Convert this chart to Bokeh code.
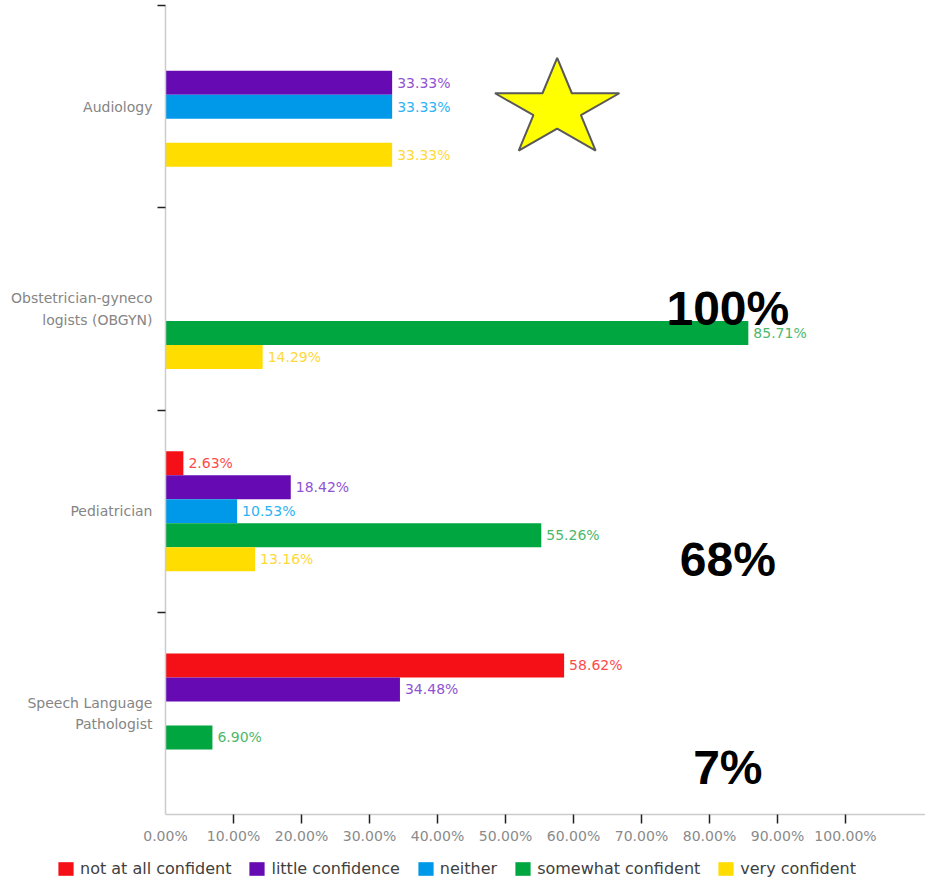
import math
from bokeh.plotting import figure
from bokeh.models import ColumnDataSource, Range1d, FixedTicker, Legend, LegendItem
from bokeh.embed import file_html
from bokeh.resources import INLINE
from bokeh.core.properties import value

# ---------------- data ----------------
categories = ["Audiology", "Obstetrician-gyneco\nlogists (OBGYN)", "Pediatrician",
              "Speech Language\nPathologist"]
series_names = ["not at all confident", "little confidence", "neither",
                "somewhat confident", "very confident"]
not_at_all = [0, 0, 2.63, 58.62]
little_conf = [33.33, 0, 18.42, 34.48]
neither = [33.33, 0, 10.53, 0]
somewhat = [0, 85.71, 55.26, 6.90]
very = [33.33, 14.29, 13.16, 0]
x_ticks = [0, 10, 20, 30, 40, 50, 60, 70, 80, 90, 100]
x_tick_labels = ["0.00%", "10.00%", "20.00%", "30.00%", "40.00%", "50.00%",
                 "60.00%", "70.00%", "80.00%", "90.00%", "100.00%"]
callout_texts = ["100%", "68%", "7%"]

# ---------------- styles / layout ----------------
bar_colors = ["#f41016", "#660bb3", "#0098e8", "#00a640", "#ffdd00"]
label_colors = ["#ff4a4a", "#8f52d3", "#2db3f5", "#4cb86b", "#ffd83a"]
series_values = [not_at_all, little_conf, neither, somewhat, very]

FRAME_W, FRAME_H = 760, 809
LEFT = 165
X_MAX = FRAME_W / 6.8
n_cat = len(categories)
PX_Y = FRAME_H / n_cat
BAR_H = 24 / PX_Y
FONT = "DejaVu Sans"

fig = figure(frame_width=FRAME_W, frame_height=FRAME_H, output_backend="svg",
             toolbar_location=None,
             x_range=Range1d(0, X_MAX), y_range=Range1d(0, n_cat),
             min_border_left=LEFT, min_border_right=0, min_border_top=5,
             min_border_bottom=0)
fig.outline_line_color = None
fig.xgrid.visible = False
fig.ygrid.visible = False

sources = []
for j, (vals, bc, lc) in enumerate(zip(series_values, bar_colors, label_colors)):
    ys, xs = [], []
    for i, v in enumerate(vals):
        if v > 0:
            ys.append(n_cat - i - 0.5 + (2 - j) * BAR_H)
            xs.append(v)
    src = ColumnDataSource(dict(y=ys, right=xs, lab=[f"{v:.2f}%" for v in xs]))
    sources.append(src)
    fig.hbar(y="y", left=0, right="right", height=BAR_H, source=src,
             fill_color=bc, line_color=None)
    fig.text(x="right", y="y", text="lab", source=src, x_offset=5,
             text_font=value(FONT), text_font_size="14px",
             text_color=lc, text_baseline="middle", text_align="left")

# star decoration (slightly flattened five point star)
cx, cy = 57.6, n_cat - 103.6 / PX_Y
rx, ry = 65.4 / 6.8, 51.3 / PX_Y
sx, sy = [], []
for k in range(10):
    ang = math.pi / 2 + k * math.pi / 5
    rr = 1.0 if k % 2 == 0 else 0.382
    sx.append(cx + rr * rx * math.cos(ang))
    sy.append(cy + rr * ry * math.sin(ang))
fig.patch(sx, sy, fill_color="#ffff00", line_color="#595959", line_width=2)

# callouts
callout_x = [82.7, 82.7, 82.7]
callout_y = [n_cat - 303 / PX_Y, n_cat - 554 / PX_Y, n_cat - 762 / PX_Y]
fig.text(x=callout_x, y=callout_y, text=callout_texts,
         text_font=value("Liberation Sans"), text_font_size="48px",
         text_font_style="bold", text_color="black",
         text_align="center", text_baseline="alphabetic")

# y axis
yax = fig.yaxis[0]
yax.ticker = FixedTicker(ticks=[n_cat - i - 0.5 for i in range(n_cat)],
                         minor_ticks=list(range(1, n_cat + 1)))
yax.major_label_overrides = {n_cat - i - 0.5: c for i, c in enumerate(categories)}
yax.major_tick_out = 0
yax.major_tick_in = 0
yax.minor_tick_out = 8
yax.minor_tick_in = 0
yax.minor_tick_line_color = "#222222"
yax.minor_tick_line_width = 1.5
yax.axis_line_color = "#cccccc"
yax.axis_line_width = 1.5
yax.major_label_text_font = FONT
yax.major_label_text_font_size = "14px"
yax.major_label_text_color = "#858585"
yax.major_label_text_line_height = 1.35
yax.major_label_standoff = 5

# x axis
xax = fig.xaxis[0]
xax.ticker = FixedTicker(ticks=x_ticks, minor_ticks=x_ticks[1:])
xax.major_label_overrides = {t: l for t, l in zip(x_ticks, x_tick_labels)}
xax.major_tick_out = 0
xax.major_tick_in = 0
xax.minor_tick_out = 9
xax.minor_tick_in = 0
xax.minor_tick_line_color = "#222222"
xax.minor_tick_line_width = 1.5
xax.axis_line_color = "#cccccc"
xax.axis_line_width = 1.5
xax.major_label_text_font = FONT
xax.major_label_text_font_size = "14px"
xax.major_label_text_color = "#8a8a8a"
xax.major_label_standoff = 4

# legend strip (separate root so that it can span the full width);
# its ranges keep the bars themselves out of view, only the legend shows
lf = figure(width=LEFT + FRAME_W, height=32, output_backend="svg",
            toolbar_location=None, x_axis_type=None, y_axis_type=None,
            x_range=Range1d(200, 300), y_range=Range1d(10, 20), min_border=0)
lf.outline_line_color = None
lf.xgrid.visible = False
lf.ygrid.visible = False
lf.background_fill_color = None
lf.border_fill_color = None
items = []
for name, bc, src in zip(series_names, bar_colors, sources):
    r = lf.hbar(y="y", left=0, right="right", height=BAR_H, source=src,
                fill_color=bc, line_color=None)
    items.append(LegendItem(label=name, renderers=[r]))
legend = Legend(items=items, orientation="horizontal", location=(56, 0),
                glyph_width=19, glyph_height=17, label_standoff=5, spacing=16,
                padding=0, margin=0, border_line_color=None,
                background_fill_alpha=0, label_text_font=FONT,
                label_text_font_size="16px", label_text_color="#404040",
                label_height=14)
lf.add_layout(legend, "center")

p = [fig, lf]
open("out.html", "w").write(file_html(p, INLINE))
